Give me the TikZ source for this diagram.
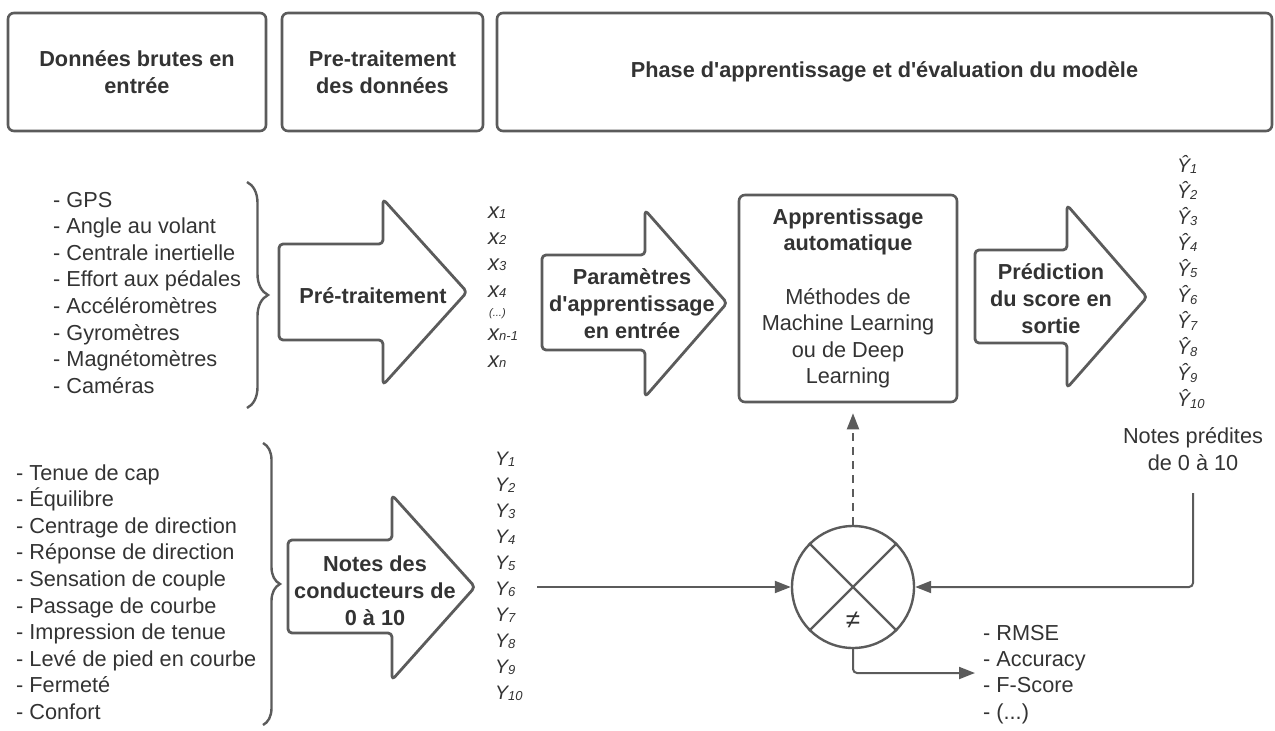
\documentclass[tikz,border=0pt]{standalone}
\usepackage{fontspec}
\setmainfont{Liberation Sans}
\newfontfamily\lib{Liberation Sans}
\usetikzlibrary{arrows.meta,decorations.pathreplacing}
\definecolor{ln}{HTML}{5B5B5B}
\definecolor{tx}{HTML}{333333}
\newcommand{\vx}[1]{{\fontsize{22}{22}\selectfont\itshape x}{\fontsize{13}{13}\selectfont\itshape #1}}
\newcommand{\vy}[1]{{\fontsize{19.5}{19.5}\selectfont\itshape Y}\raisebox{-1.5pt}{\fontsize{13}{13}\selectfont\itshape #1}}
\newcommand{\vyh}[1]{{\fontsize{19.5}{19.5}\selectfont\itshape Ŷ}\raisebox{-1.5pt}{\fontsize{13}{13}\selectfont\itshape #1}}
\tikzset{
  hdr/.style={draw=ln, line width=2.6pt, rounded corners=6pt, align=center, text=tx,
     font=\lib\fontsize{21.7}{27}\selectfont\bfseries, inner sep=0pt},
  blk/.style={draw=ln, line width=2.8pt, rounded corners=4pt, line join=round},
  conn/.style={draw=ln, line width=2pt},
  arr/.style={-{Triangle[length=16pt,width=12pt]}},
  brc/.style={draw=ln, line width=2.4pt, decorate},
  txt/.style={text=tx, inner sep=0pt, font=\lib\fontsize{21.7}{26.6}\selectfont},
  txtb/.style={text=tx, inner sep=0pt, align=center, font=\lib\fontsize{21.7}{26.6}\selectfont\bfseries},
  var/.style={text=tx, inner sep=0pt, anchor=base west, font=\lib},
}
\begin{document}
\begin{tikzpicture}[x=1pt,y=-1pt]
\useasboundingbox (0,0) rectangle (1275,731);

% header boxes
\node[hdr, minimum width=258pt, minimum height=118pt] (h1) at (137,72) {Données brutes en\\entrée};
\node[hdr, minimum width=201pt, minimum height=118pt] (h2) at (382.5,72) {Pre-traitement\\des données};
\node[hdr, minimum width=775pt, minimum height=118pt] (h3) at (884.5,72) {Phase d'apprentissage et d'évaluation du modèle};

% top list
\foreach \t [count=\i] in {GPS, Angle au volant, Centrale inertielle, Effort aux pédales, Accéléromètres, Gyromètres, Magnétomètres, Caméras}
  \node[txt, anchor=base west] (s\i) at (53,{207+(\i-1)*26.6}) {- \t};
\draw[brc, decoration={brace, amplitude=21pt}] (247,182) -- (247,408);

% bottom list
\foreach \t [count=\i] in {Tenue de cap, Équilibre, Centrage de direction, Réponse de direction, Sensation de couple, Passage de courbe, Impression de tenue, Levé de pied en courbe, Fermeté, Confort}
  \node[txt, anchor=base west] (c\i) at (16,{480+(\i-1)*26.6}) {- \t};
\draw[brc, decoration={brace, amplitude=17pt}] (263,443) -- (263,725);

% block arrows (text anchored on the baseline of its last line)
\draw[blk] (279,244) -- (383,244) -- (383,199) -- (467,292) -- (383,385) -- (383,340) -- (279,340) -- cycle;
\node[txtb, anchor=base] (pt) at (373,303) {Pré-traitement};

\draw[blk] (542,255) -- (645,255) -- (645,210) -- (727,303) -- (645,397) -- (645,350) -- (542,350) -- cycle;
\node[txtb, anchor=base] (pa) at (632,338) {Paramètres\\d'apprentissage\\en entrée};

\draw[blk] (975,250) -- (1067,250) -- (1067,205) -- (1147,297) -- (1067,388) -- (1067,343) -- (975,343) -- cycle;
\node[txtb, anchor=base] (pr) at (1051,333) {Prédiction\\du score en\\sortie};

\draw[blk] (288,540) -- (392,540) -- (392,495) -- (475,587) -- (392,680) -- (392,633) -- (288,633) -- cycle;
\node[txtb, anchor=base] (nc) at (375,625) {Notes des\\conducteurs de\\0 à 10};

% learning box
\node[draw=ln, line width=2.6pt, rounded corners=6pt, minimum width=218pt, minimum height=207pt,
      align=center, text=tx, inner sep=0pt, font=\lib\fontsize{21.7}{26.6}\selectfont] (app) at (848,298.5)
  {\textbf{Apprentissage}\\\textbf{automatique}\\[26.6pt]Méthodes de\\Machine Learning\\ou de Deep\\Learning};

% x list
\node[var] (x1) at (488,218) {\vx{1}};
\node[var] (x2) at (488,244) {\vx{2}};
\node[var] (x3) at (488,270) {\vx{3}};
\node[var] (x4) at (488,297) {\vx{4}};
\node[var] (xd) at (489,316) {\fontsize{11}{11}\selectfont\itshape (...)};
\node[var] (xn1) at (488,340) {\vx{n-1}};
\node[var] (xn) at (488,367) {\vx{n}};

% Y lists
\foreach \i in {1,...,10}
  \node[var] (y\i) at (495,{465+(\i-1)*26}) {\vy{\i}};
\foreach \i in {1,...,10}
  \node[var] (yh\i) at (1177,{172+(\i-1)*26.1}) {\vyh{\i}};

\node[txt, align=center, anchor=base] (np) at (1193,470) {Notes prédites\\de 0 à 10};

% comparator
\node[draw=ln, line width=2.4pt, circle, minimum size=122pt, inner sep=0pt] (cmp) at (853,587) {};
\draw[conn, line width=2.4pt] (cmp.north west) -- (cmp.south east);
\draw[conn, line width=2.4pt] (cmp.north east) -- (cmp.south west);
\node[text=tx, inner sep=0pt, font=\fontsize{26}{26}\selectfont] (ne) at (853,620) {≠};

% metrics
\node[txt, anchor=base west] (m1) at (983,640) {- RMSE};
\node[txt, anchor=base west] (m2) at (983,666.4) {- Accuracy};
\node[txt, anchor=base west] (m3) at (983,692.8) {- F-Score};
\node[txt, anchor=base west] (m4) at (983,719.2) {- (...)};

% connectors
\coordinate (ys) at (537,587);
\coordinate (ps) at (1193,493);
\coordinate (me) at (975,673);
\draw[conn, arr] (ys) -- (cmp.west);
\draw[conn, arr, rounded corners=4pt] (ps) |- (cmp.east);
\draw[conn, arr, rounded corners=4pt] (cmp.south) |- (me);
\draw[conn, arr, dash pattern=on 8pt off 6pt, shorten >=10pt] (cmp.north) -- (cmp.north |- app.south);
\end{tikzpicture}
\end{document}
